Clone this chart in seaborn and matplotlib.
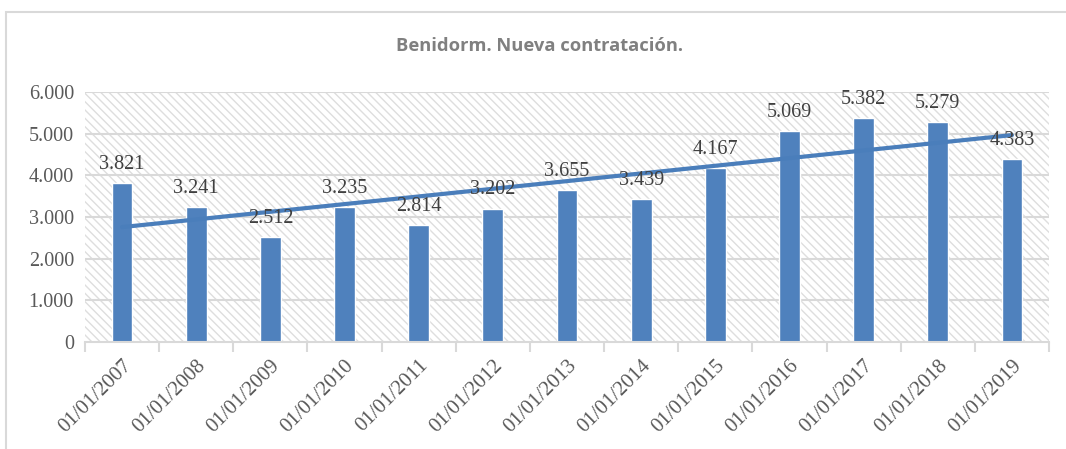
import numpy as np
import pandas as pd
import matplotlib
matplotlib.use("Agg")
import matplotlib.pyplot as plt
from matplotlib.patches import Rectangle
import seaborn as sns

# Nueva contratación en Benidorm, por año
fechas = ["01/01/2007", "01/01/2008", "01/01/2009", "01/01/2010", "01/01/2011",
          "01/01/2012", "01/01/2013", "01/01/2014", "01/01/2015", "01/01/2016",
          "01/01/2017", "01/01/2018", "01/01/2019"]
contratos = [3821, 3241, 2512, 3235, 2814, 3202, 3655, 3439, 4167, 5069, 5382, 5279, 4383]
y_ticks = [0, 1000, 2000, 3000, 4000, 5000, 6000]

df = pd.DataFrame({"fecha": fechas, "contratos": contratos})

sns.set_theme(style="white")
plt.rcParams["font.family"] = ["Liberation Serif", "DejaVu Serif"]
plt.rcParams["hatch.color"] = "#dedede"
plt.rcParams["hatch.linewidth"] = 1.0

W, H = 1066, 449
fig = plt.figure(figsize=(W / 100, H / 100), dpi=100)
fig.patch.set_facecolor("white")

# outer chart frame
fig.patches.append(Rectangle((6 / W, -0.01), 1.1, 1 - 12 / H + 0.01,
                             transform=fig.transFigure, fill=False,
                             edgecolor="#d9d9d9", linewidth=1.5))

left, right, top, bottom = 85, 1049, 92, 342
ax = fig.add_axes([left / W, 1 - bottom / H, (right - left) / W, (bottom - top) / H])
ax.set_facecolor("white")

# hatched plot area
ax.add_patch(Rectangle((0, 0), 1, 1, transform=ax.transAxes, facecolor="white",
                       edgecolor="#dedede", hatch="\\\\\\\\", linewidth=0, zorder=0))

ax.set_ylim(0, 6000)
ax.set_yticks(y_ticks)
ax.set_yticklabels([f"{v:,}".replace(",", ".") for v in y_ticks],
                   fontsize=14.5, color="#595959")
for v in y_ticks[1:]:
    ax.axhline(v, color="#d9d9d9", linewidth=1.5, zorder=1)

sns.barplot(data=df, x="fecha", y="contratos", color="#4f81bd", saturation=1,
            width=0.28, ax=ax, zorder=2)

x = np.arange(len(contratos))
ax.set_xlim(-0.5, len(contratos) - 0.5)

# linear trend
coef = np.polyfit(x, contratos, 1)
ax.plot(x, np.polyval(coef, x), color="#4a7ebb", linewidth=3, zorder=3,
        solid_capstyle="round")

for xi, v in zip(x, contratos):
    ax.text(xi, v + 220, f"{v:,}".replace(",", "."), ha="center", va="bottom",
            fontsize=14.5, color="#404040", zorder=4)

ax.set_xticks(x)
ax.set_xticklabels(fechas, rotation=45, ha="right", rotation_mode="anchor",
                   fontsize=15, color="#595959")
ax.set_xticks(np.arange(-0.5, len(contratos), 1), minor=True)
ax.tick_params(axis="x", which="major", length=0, pad=10)
ax.tick_params(axis="x", which="minor", length=7, color="#d9d9d9", width=1.5,
               direction="out", bottom=True)
ax.tick_params(axis="y", length=0, pad=8)
ax.set_xlabel("")
ax.set_ylabel("")

for s in ["top", "right", "left"]:
    ax.spines[s].set_visible(False)
ax.spines["bottom"].set_color("#d9d9d9")
ax.spines["bottom"].set_linewidth(1.5)
ax.spines["bottom"].set_zorder(5)

fig.text(540 / W, 1 - 46 / H, "Benidorm. Nueva contratación.",
         ha="center", va="center", fontsize=13.2, fontweight="bold",
         color="#808080", family=["Open Sans", "DejaVu Sans"])

fig.savefig("out.png", dpi=100)
